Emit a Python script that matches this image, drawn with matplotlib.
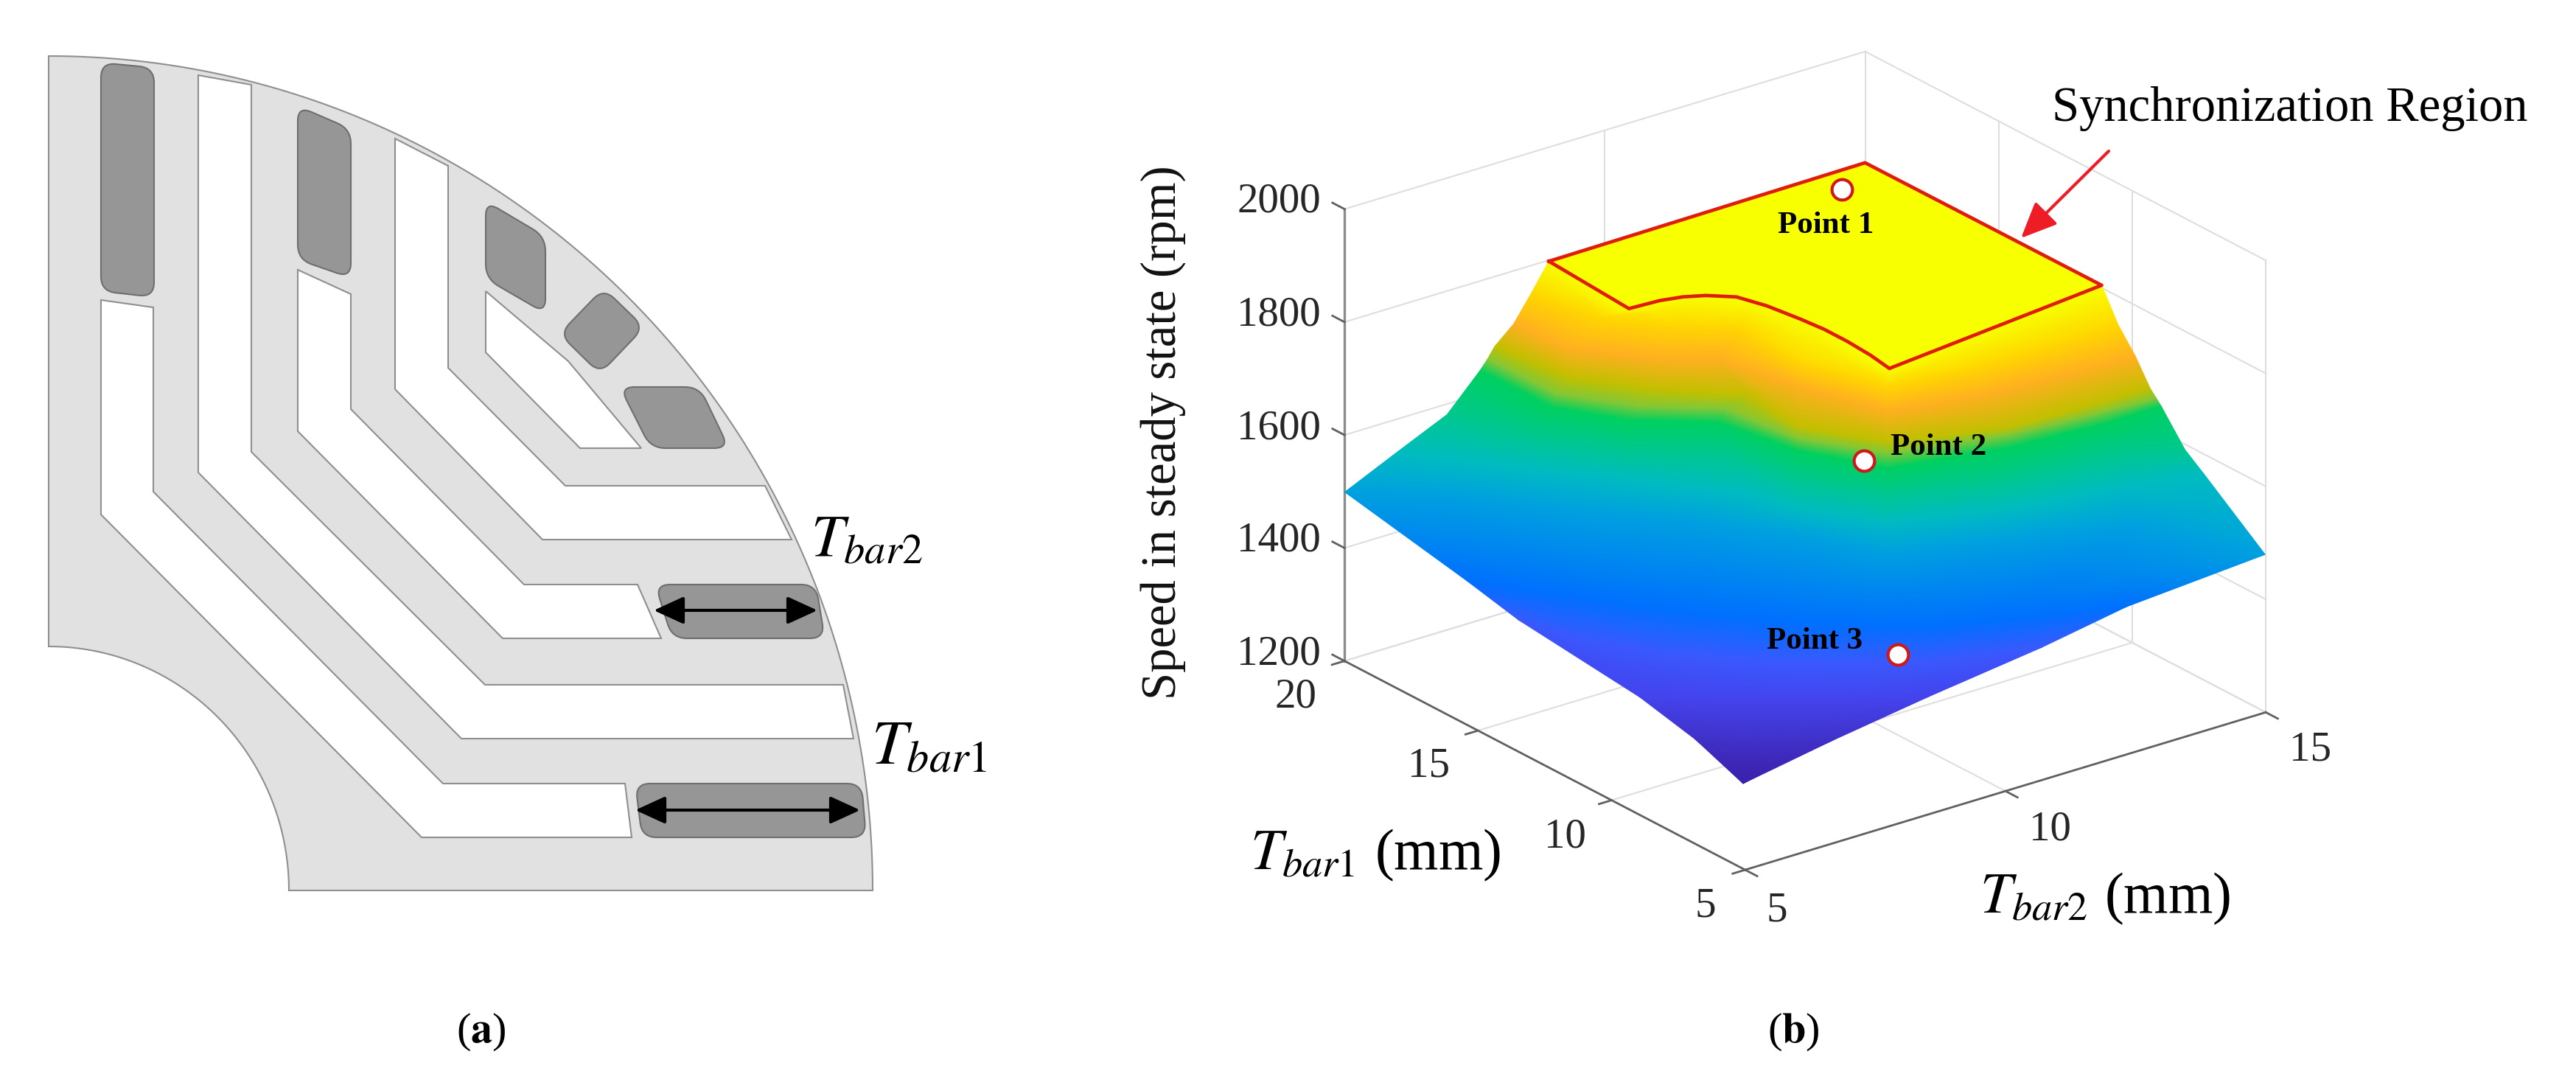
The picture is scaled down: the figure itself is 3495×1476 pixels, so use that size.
import numpy as np
import matplotlib
matplotlib.use("Agg")
import matplotlib.pyplot as plt
from matplotlib.colors import LinearSegmentedColormap, Normalize
from matplotlib.patches import PathPatch, Polygon
from matplotlib.path import Path
from mpl_toolkits.mplot3d import proj3d

plt.rcParams["font.family"] = ["Liberation Serif", "DejaVu Serif"]
plt.rcParams["mathtext.fontset"] = "stix"

# ---- panel (b) data ----
SPEED_LEVELS = [1354, 1370, 1385, 1400, 1430, 1500, 1560, 1610, 1650, 1665, 1700, 1730, 1770, 1800, 1800]

TBAR2_ROWS = [
    [4.96, 4.96, 4.96, 4.96, 4.96, 4.96, 4.96, 4.96, 4.96],
    [5.20, 5.34, 5.49, 5.69, 5.92, 6.14, 6.38, 6.62, 6.82],
    [5.31, 5.68, 6.09, 6.54, 6.98, 7.43, 7.88, 8.36, 8.83],
    [5.44, 5.78, 6.50, 7.11, 7.82, 8.60, 9.41, 10.27, 11.16],
    [5.33, 6.02, 6.71, 7.47, 8.37, 9.13, 9.82, 11.02, 12.74],
    [4.99, 6.14, 7.27, 8.49, 9.47, 10.18, 11.94, 13.74, 14.72],
    [5.76, 6.78, 7.94, 9.09, 9.33, 10.13, 11.89, 13.92, 15.06],
    [6.59, 7.09, 7.97, 9.10, 9.36, 10.11, 11.92, 13.76, 14.74],
    [7.49, 7.51, 8.13, 9.18, 9.49, 10.18, 12.13, 13.74, 14.94],
    [7.64, 7.68, 8.40, 9.37, 9.58, 10.33, 12.23, 13.83, 14.87],
    [7.58, 7.73, 8.53, 9.50, 9.38, 10.15, 11.94, 13.60, 14.56],
    [7.93, 8.02, 8.87, 9.61, 9.93, 10.47, 11.91, 13.52, 14.74],
    [8.36, 8.62, 9.34, 10.10, 10.00, 10.53, 12.03, 13.57, 14.74],
    [8.90, 8.77, 10.01, 10.45, 10.61, 10.54, 12.06, 13.55, 15.06],
    [8.90, 10.46, 12.03, 13.53, 15.04, 15.05, 15.05, 15.06, 15.06],
]
TBAR1_ROWS = [
    [5.00, 5.00, 5.00, 5.00, 5.00, 5.00, 5.00, 5.00, 5.00],
    [7.26, 6.99, 6.72, 6.43, 6.18, 5.92, 5.70, 5.48, 5.31],
    [9.54, 9.02, 8.44, 7.94, 7.43, 6.92, 6.41, 5.97, 5.60],
    [14.35, 12.53, 10.71, 9.60, 8.53, 7.69, 6.88, 6.38, 5.90],
    [16.07, 14.38, 12.69, 11.14, 9.60, 8.57, 7.68, 6.85, 5.81],
    [19.97, 18.39, 16.06, 13.94, 11.71, 9.74, 8.64, 7.65, 4.48],
    [19.52, 17.36, 15.14, 12.88, 11.44, 9.64, 8.54, 7.99, 7.43],
    [19.26, 17.15, 15.20, 13.49, 11.50, 9.59, 8.60, 8.26, 7.52],
    [19.78, 17.11, 15.51, 14.16, 11.75, 9.74, 9.01, 8.78, 8.80],
    [19.80, 17.27, 15.55, 14.29, 11.93, 10.02, 9.20, 8.96, 8.85],
    [19.40, 16.96, 15.15, 13.68, 11.54, 9.60, 8.63, 8.50, 8.47],
    [19.38, 17.53, 15.82, 14.99, 12.61, 10.30, 9.72, 9.49, 9.38],
    [19.54, 17.51, 16.16, 15.14, 12.75, 10.41, 10.08, 10.04, 10.03],
    [19.95, 16.70, 16.24, 15.27, 13.87, 10.40, 10.69, 10.96, 11.26],
    [19.95, 19.98, 20.00, 20.04, 20.08, 17.90, 15.68, 13.49, 11.26],
]
LEVEL_COLORS = ["#3a1fa8", "#4030c8", "#4444ee", "#3a5aff", "#0070ff", "#00a0e0", "#00bcc0",
                "#00c890", "#00d060", "#80c838", "#c0c000", "#ffb020", "#ffd800", "#f8ff00"]
COLOR_LEVELS = SPEED_LEVELS[:14]

REGION_TBAR2 = [8.90, 8.77, 9.33, 9.70, 10.01, 10.35, 10.51, 10.61, 10.66, 10.66, 10.62, 10.54, 15.06, 15.04, 8.90]
REGION_TBAR1 = [19.95, 16.70, 16.64, 16.49, 16.24, 15.75, 14.93, 13.87, 13.07, 12.22, 11.26, 10.40, 11.26, 20.08, 19.95]
REGION_SPEED = 1800

POINT_TBAR2 = [14.14, 10.32, 9.17]
POINT_TBAR1 = [19.19, 10.92, 7.42]
POINT_SPEED = [1800, 1630, 1405]
POINT_NAMES = ["Point 1", "Point 2", "Point 3"]

SPEED_TICKS = [1200, 1400, 1600, 1800, 2000]
TBAR1_TICKS = [5, 10, 15, 20]
TBAR2_TICKS = [5, 10, 15]

# ---- panel (a) outline, in picture pixels ----
SLOTS = [
    [(137, 407), (208, 417), (208, 667), (601, 1063), (848, 1063), (857, 1136), (572, 1136), (137, 698)],
    [(269, 102), (341, 115), (341, 613), (658, 929), (1144, 929), (1158, 1002), (626, 1002), (269, 641)],
    [(404, 366), (476, 399), (476, 555), (711, 793), (865, 793), (897, 866), (682, 866), (404, 585)],
    [(536, 188), (608, 225), (608, 499), (767, 659), (1038, 659), (1074, 732), (736, 732), (536, 528)],
    [(659, 395), (771, 490), (870, 608), (787, 608), (659, 478)],
]
MAGNETS = [
    [(137, 85), (209, 92), (209, 403), (137, 395)],
    [(404, 144), (476, 175), (476, 377), (404, 352)],
    [(659, 273), (740, 321), (740, 425), (659, 378)],
    [(819, 391), (874, 444), (814, 507), (759, 453)],
    [(841, 525), (949, 525), (989, 608), (883, 608)],
    [(889, 793), (1107, 793), (1119, 866), (912, 866)],
    [(862, 1063), (1169, 1063), (1175, 1136), (871, 1136)],
]

W, H = 3495, 1476
fig = plt.figure(figsize=(W / 100, H / 100), dpi=100)

ax3 = fig.add_axes([0.42, -0.1, 1600 / W, 1600 / H], projection="3d", proj_type="ortho")
ax3.set_axis_off()
ax3.view_init(elev=23.4, azim=-127.3)
ax3.set_box_aspect((888, 897, 668))
ax3.set_xlim(5, 15, view_margin=0)
ax3.set_ylim(5, 20, view_margin=0)
ax3.set_zlim(1200, 2000, view_margin=0)


def to_canvas(t2, t1, speed):
    xs, ys, _ = proj3d.proj_transform(np.ravel(t2).astype(float), np.ravel(t1).astype(float),
                                      np.ravel(speed).astype(float), ax3.get_proj())
    pts = ax3.transData.transform(np.column_stack([xs, ys]))
    pts[:, 1] = H - pts[:, 1]
    return pts


# move the 3d axes so the box corners land where they are in the picture
anchors = np.array([[1824, 897], [3074, 966], [2368, 567]], float)
for _ in range(3):
    fig.canvas.draw()
    now = to_canvas([5, 15, 5], [20, 5, 5], [1200, 1200, 2000])
    scale = np.linalg.norm(anchors[1] - anchors[0]) / np.linalg.norm(now[1] - now[0])
    pos = ax3.get_position(original=True)
    cx, cy = (pos.x0 + pos.width / 2) * W, H - (pos.y0 + pos.height / 2) * H
    new_c = anchors.mean(axis=0) - scale * (now.mean(axis=0) - [cx, cy])
    w, h = pos.width * scale, pos.height * scale
    ax3.set_position([new_c[0] / W - w / 2, (H - new_c[1]) / H - h / 2, w, h])
fig.canvas.draw()

# back walls and floor
grid_c, grid_lw = "#dedede", 1.5
for z in SPEED_TICKS:
    ax3.plot([5, 15], [20, 20], [z, z], color=grid_c, lw=grid_lw)
    ax3.plot([15, 15], [20, 5], [z, z], color=grid_c, lw=grid_lw)
for t2 in TBAR2_TICKS[1:]:
    ax3.plot([t2, t2], [20, 20], [1200, 2000], color=grid_c, lw=grid_lw)
    ax3.plot([t2, t2], [5, 20], [1200, 1200], color=grid_c, lw=grid_lw)
for t1 in TBAR1_TICKS[:-1]:
    ax3.plot([15, 15], [t1, t1], [1200, 2000], color=grid_c, lw=grid_lw)
for t1 in TBAR1_TICKS[1:]:
    ax3.plot([5, 15], [t1, t1], [1200, 1200], color=grid_c, lw=grid_lw)

# axes and their ticks
ax3.plot([5, 5], [20, 20], [1200, 2000], color="#8c8c8c", lw=2.4)
ax3.plot([5, 5], [5, 20], [1200, 1200], color="#606060", lw=2)
ax3.plot([5, 15], [5, 5], [1200, 1200], color="#606060", lw=2)
for z in SPEED_TICKS:
    ax3.plot([5, 5], [20, 20.45], [z, z], color="#606060", lw=2)
for t1 in TBAR1_TICKS:
    ax3.plot([5, 4.76], [t1, t1], [1200, 1200], color="#606060", lw=2)
for t2 in TBAR2_TICKS:
    ax3.plot([t2, t2], [5, 4.55], [1200, 1200], color="#606060", lw=2)

# everything on top is drawn on one flat axes in picture pixels
canvas = fig.add_axes([0, 0, 1, 1], zorder=5)
canvas.patch.set_visible(False)
canvas.axis("off")
canvas.set_xlim(0, W)
canvas.set_ylim(H, 0)
canvas.set_autoscale_on(False)

# surface
t2_grid = np.array(TBAR2_ROWS)
t1_grid = np.array(TBAR1_ROWS)
speed_grid = np.repeat(np.array(SPEED_LEVELS)[:, None], t2_grid.shape[1], axis=1)
surf_xy = to_canvas(t2_grid, t1_grid, speed_grid).reshape(t2_grid.shape + (2,))
stops = [(v - COLOR_LEVELS[0]) / (COLOR_LEVELS[-1] - COLOR_LEVELS[0]) for v in COLOR_LEVELS]
speed_cmap = LinearSegmentedColormap.from_list("speed", list(zip(stops, LEVEL_COLORS)), N=512)
canvas.pcolormesh(surf_xy[..., 0], surf_xy[..., 1], speed_grid, shading="gouraud",
                  cmap=speed_cmap, norm=Normalize(COLOR_LEVELS[0], COLOR_LEVELS[-1]))

# synchronization region outline
reg = to_canvas(REGION_TBAR2, REGION_TBAR1, [REGION_SPEED] * len(REGION_TBAR2))
canvas.plot(reg[:, 0], reg[:, 1], color="#e01c0c", lw=3.4, solid_joinstyle="round")

# operating points
pts = to_canvas(POINT_TBAR2, POINT_TBAR1, POINT_SPEED)
canvas.plot(pts[:, 0], pts[:, 1], ls="none", marker="o", ms=20, mfc="white", mec="#d01818", mew=3)
for (x, y), name in zip([(2477, 306), (2630, 607), (2462, 870)], POINT_NAMES):
    canvas.text(x, y, name, fontsize=31, fontweight="bold", ha="center", va="center", color="black")

# tick labels
for z, y in zip(SPEED_TICKS, [888, 734, 582, 427, 273]):
    canvas.text(1792, y, str(z), fontsize=41, ha="right", va="center", color="#262626")
for t1, (x, y) in zip(TBAR1_TICKS, [(2314, 1230), (2123, 1136), (1939, 1040), (1758, 946)]):
    canvas.text(x, y, str(t1), fontsize=41, ha="center", va="center", color="#262626")
for t2, (x, y) in zip(TBAR2_TICKS, [(2411, 1235), (2781, 1125), (3135, 1018)]):
    canvas.text(x, y, str(t2), fontsize=41, ha="center", va="center", color="#262626")

canvas.text(1578, 587, "Speed in steady state (rpm)", fontsize=48, rotation=90, ha="center", va="center", color="#111111")
canvas.text(1866, 1160, r"$T_{bar\mathrm{1}}$ (mm)", fontsize=56, ha="center", va="center")
canvas.text(2856, 1219, r"$T_{bar\mathrm{2}}$ (mm)", fontsize=56, ha="center", va="center")
canvas.text(3107, 148, "Synchronization Region", fontsize=48, ha="center", va="center")
canvas.annotate("", xy=(2742, 323), xytext=(2861, 205),
                arrowprops=dict(arrowstyle="-|>,head_length=0.5,head_width=0.22", color="#ee1c25",
                                lw=3, mutation_scale=60, shrinkA=0, shrinkB=0))


# ---- panel (a) ----
def rounded_path(verts, r):
    verts = np.array(verts, float)
    n = len(verts)
    codes, out = [], []
    for i in range(n):
        p, prev, nxt = verts[i], verts[i - 1], verts[(i + 1) % n]
        a = p + (prev - p) / np.linalg.norm(prev - p) * r
        b = p + (nxt - p) / np.linalg.norm(nxt - p) * r
        codes += [Path.MOVETO if i == 0 else Path.LINETO, Path.CURVE3, Path.CURVE3]
        out += [a, p, b]
    codes.append(Path.CLOSEPOLY)
    out.append(out[0])
    return Path(out, codes)


cx, cy = 66, 1208
ang = np.linspace(0, np.pi / 2, 120)
outer = np.column_stack([cx + 1118 * np.cos(ang), cy - 1132 * np.sin(ang)])
inner = np.column_stack([cx + 326 * np.sin(ang), cy - 331 * np.cos(ang)])
rotor = np.vstack([outer, inner])
canvas.add_patch(Polygon(rotor, closed=True, fc="#e1e1e1", ec="#8f8f8f", lw=1.5))
for slot in SLOTS:
    canvas.add_patch(Polygon(slot, closed=True, fc="white", ec="#8f8f8f", lw=1.5))
for mag in MAGNETS:
    canvas.add_patch(PathPatch(rounded_path(mag, 20), fc="#969696", ec="#6e6e6e", lw=1.5))

for x0, x1, y in [(887, 1109, 828), (862, 1167, 1099)]:
    canvas.annotate("", xy=(x1, y), xytext=(x0, y),
                    arrowprops=dict(arrowstyle="<|-|>,head_length=0.7,head_width=0.32", color="black",
                                    lw=3, mutation_scale=36, shrinkA=0, shrinkB=0))
canvas.text(1100, 755, r"$T_{bar\mathrm{2}}$", fontsize=58, ha="left", va="baseline")
canvas.text(1182, 1036, r"$T_{bar\mathrm{1}}$", fontsize=62, ha="left", va="baseline")

canvas.text(653, 1400, r"($\mathbf{a}$)", fontsize=42, ha="center", va="center")
canvas.text(2433, 1400, r"($\mathbf{b}$)", fontsize=42, ha="center", va="center")

fig.savefig("out.png", dpi=100)
